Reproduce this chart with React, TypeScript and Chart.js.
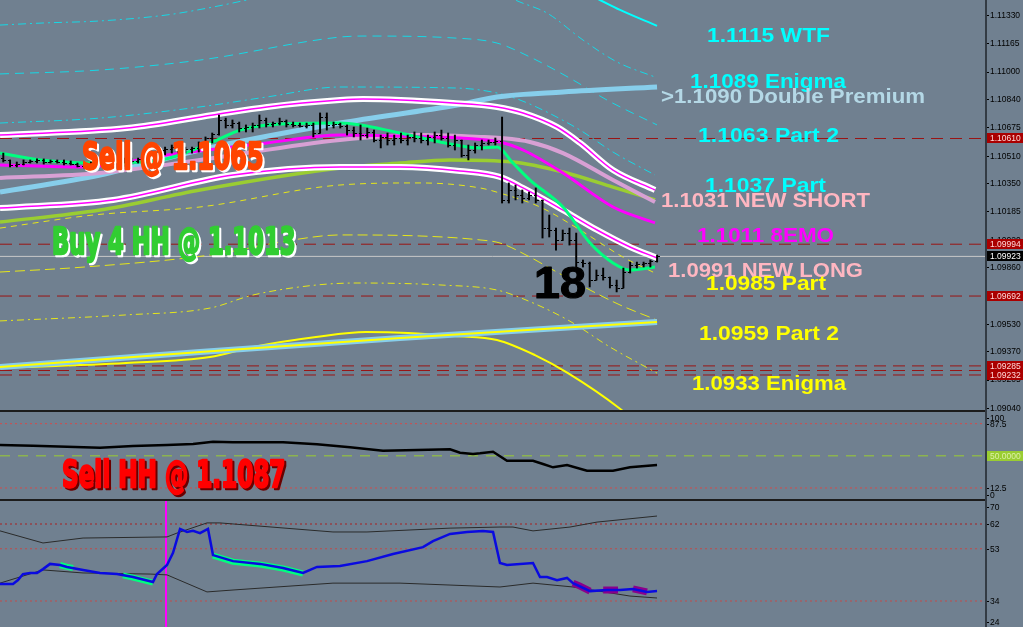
import React, { useEffect, useRef } from "react";
import { Chart, registerables } from "chart.js";

Chart.register(...registerables);

// ---------------- price bars (index = bar number) ----------------
const opens = [
  1.10496, 1.10485, 1.10456, 1.10461, 1.10473, 1.10479, 1.10485, 1.10473, 1.10479, 1.10473,
  1.10467, 1.10461, 1.1045, 1.10456, 1.10461, 1.10467, 1.10473, 1.10467, 1.10479, 1.10485,
  1.10479, 1.10491, 1.10496, 1.10508, 1.10543, 1.10549, 1.1056, 1.10543, 1.10549, 1.10555,
  1.10584, 1.10613, 1.10636, 1.10718, 1.10689, 1.107, 1.10671, 1.10677, 1.10689, 1.10718,
  1.10694, 1.107, 1.10712, 1.10694, 1.10689, 1.10683, 1.10689, 1.10642, 1.10735, 1.10689,
  1.10694, 1.10683, 1.10659, 1.10642, 1.1063, 1.10648, 1.10601, 1.10619, 1.10601, 1.10613,
  1.10601, 1.10619, 1.10613, 1.10601, 1.10619, 1.1063, 1.10613, 1.10572, 1.10601, 1.10514,
  1.10543, 1.10572, 1.10584, 1.1059, 1.10595, 1.10252, 1.1031, 1.10281, 1.10263, 1.10281,
  1.10252, 1.10088, 1.10077, 1.10019, 1.10059, 1.10019, 1.0989, 1.09885, 1.09785, 1.09815,
  1.09803, 1.09756, 1.09739, 1.09832, 1.09873, 1.09879, 1.09885, 1.09896,
];
const highs = [
  1.10525, 1.10485, 1.10473, 1.10485, 1.10485, 1.10491, 1.10491, 1.10485, 1.10485, 1.10485,
  1.10479, 1.10467, 1.10467, 1.10473, 1.10473, 1.10485, 1.10479, 1.10485, 1.10496, 1.10496,
  1.10496, 1.10502, 1.10514, 1.10555, 1.1056, 1.10572, 1.10584, 1.1056, 1.1056, 1.1059,
  1.10619, 1.10642, 1.10747, 1.10729, 1.10718, 1.10706, 1.10689, 1.107, 1.10747, 1.10729,
  1.10706, 1.10729, 1.10718, 1.10706, 1.107, 1.107, 1.107, 1.10759, 1.10759, 1.10706,
  1.107, 1.10689, 1.10677, 1.10689, 1.10671, 1.10659, 1.1063, 1.10642, 1.1063, 1.10642,
  1.1063, 1.10648, 1.10642, 1.1063, 1.10648, 1.10659, 1.10642, 1.1063, 1.10601, 1.10572,
  1.10584, 1.10601, 1.10601, 1.10613, 1.10735, 1.10351, 1.10339, 1.1031, 1.10298, 1.10322,
  1.10252, 1.10164, 1.10088, 1.10077, 1.10088, 1.10059, 1.09902, 1.0989, 1.09844, 1.09855,
  1.09803, 1.09785, 1.09855, 1.0989, 1.0989, 1.0989, 1.09902, 1.09931,
];
const lows = [
  1.10473, 1.10444, 1.10444, 1.10456, 1.10467, 1.10467, 1.10461, 1.10467, 1.10467, 1.10456,
  1.10456, 1.10444, 1.10438, 1.10444, 1.10444, 1.10444, 1.1045, 1.10456, 1.10467, 1.10467,
  1.10467, 1.10473, 1.10485, 1.10496, 1.10514, 1.10525, 1.10525, 1.10525, 1.10525, 1.10531,
  1.10584, 1.10584, 1.1063, 1.10671, 1.10671, 1.10648, 1.10648, 1.10648, 1.10671, 1.10677,
  1.10677, 1.10689, 1.10677, 1.10677, 1.10677, 1.10671, 1.10619, 1.10642, 1.10659, 1.10671,
  1.10671, 1.1063, 1.10619, 1.10601, 1.10613, 1.1059, 1.10555, 1.10572, 1.10572, 1.10584,
  1.10572, 1.1059, 1.10584, 1.10572, 1.10584, 1.10601, 1.1056, 1.10543, 1.10502, 1.10485,
  1.10525, 1.10543, 1.10572, 1.10572, 1.10234, 1.10234, 1.10252, 1.10234, 1.10252, 1.10234,
  1.1003, 1.10036, 1.0996, 1.10019, 1.09989, 1.09861, 1.09861, 1.09745, 1.09785, 1.09785,
  1.09739, 1.09716, 1.09739, 1.09826, 1.09855, 1.09861, 1.09861, 1.0989,
];
const closes = [
  1.10485, 1.10456, 1.10461, 1.10473, 1.10479, 1.10485, 1.10473, 1.10479, 1.10473, 1.10467,
  1.10461, 1.1045, 1.10456, 1.10461, 1.10467, 1.10473, 1.10467, 1.10479, 1.10485, 1.10479,
  1.10491, 1.10496, 1.10508, 1.10543, 1.10549, 1.1056, 1.10543, 1.10549, 1.10555, 1.10584,
  1.10613, 1.10636, 1.10718, 1.10689, 1.107, 1.10671, 1.10677, 1.10689, 1.10718, 1.10694,
  1.107, 1.10712, 1.10694, 1.10689, 1.10683, 1.10689, 1.10642, 1.10735, 1.10689, 1.10694,
  1.10683, 1.10659, 1.10642, 1.1063, 1.10648, 1.10601, 1.10619, 1.10601, 1.10613, 1.10601,
  1.10619, 1.10613, 1.10601, 1.10619, 1.1063, 1.10613, 1.10572, 1.10601, 1.10514, 1.10543,
  1.10572, 1.10584, 1.1059, 1.10595, 1.10252, 1.1031, 1.10281, 1.10263, 1.10281, 1.10252,
  1.10088, 1.10077, 1.10019, 1.10059, 1.10019, 1.0989, 1.09885, 1.09785, 1.09815, 1.09803,
  1.09756, 1.09739, 1.09832, 1.09873, 1.09879, 1.09885, 1.09896, 1.09923,
];

// ---------------- main-panel indicators: [barIndex, price] ----------------
const cyanOuter = [[-0.49, 1.11271], [5.89, 1.11283], [14.35, 1.11295], [24.29, 1.1133], [31.11, 1.11376], [36.16, 1.11417], [44, 1.1148], [60, 1.1152], [72, 1.1148], [76.66, 1.11405], [80.67, 1.11341], [86.0, 1.11184], [91.05, 1.11056], [96.69, 1.10968]];
const cyanMiddle = [[-0.49, 1.10986], [14.35, 1.11009], [29.18, 1.11067], [49.95, 1.11201], [53.37, 1.11207], [66.72, 1.11196], [73.25, 1.11166], [78.14, 1.11085], [84.53, 1.10951], [89.57, 1.10834], [96.99, 1.10689]];
const cyanInner = [[-0.49, 1.107], [14.35, 1.10729], [29.18, 1.10794], [39.12, 1.10852], [49.95, 1.1091], [67.32, 1.10904], [73.25, 1.10875], [76.66, 1.10834], [80.67, 1.10764], [85.57, 1.10659], [90.46, 1.10531], [96.69, 1.10397]];
const wtfLine = [[82.6, 1.11534], [88.53, 1.11417], [91.5, 1.11359], [96.99, 1.11266]];
const upperBand = [[-0.49, 1.1063], [18.35, 1.10671], [31.11, 1.10747], [39.12, 1.10794], [49.95, 1.10834], [53.37, 1.1084], [66.72, 1.10817], [73.25, 1.10794], [77.11, 1.10759], [82.15, 1.10677], [85.57, 1.10584], [90.46, 1.10426], [96.69, 1.1031]];
const lowerBand = [[-0.49, 1.10205], [16.28, 1.10252], [34.08, 1.10397], [49.95, 1.10444], [58.86, 1.10444], [67.76, 1.10421], [73.69, 1.10386], [77.11, 1.10322], [83.04, 1.10193], [88.09, 1.10077], [92.98, 1.09978], [96.99, 1.09914]];
const premiumLine = [[-0.49, 1.10298], [14.35, 1.10397], [29.18, 1.10543], [49.95, 1.107], [67.32, 1.10805], [73.25, 1.10852], [83.04, 1.10881], [96.99, 1.1091]];
const ema8 = [[-0.49, 1.10456], [11.83, 1.10444], [24.29, 1.10514], [39.12, 1.10584], [49.95, 1.1063], [58.86, 1.10624], [67.76, 1.10613], [73.69, 1.1059], [77.11, 1.10543], [83.04, 1.10409], [90.46, 1.10211], [96.69, 1.10118]];
const newShortLine = [[-0.49, 1.1038], [14.35, 1.10409], [29.18, 1.10485], [49.95, 1.10601], [61.82, 1.1063], [70.73, 1.10619], [73.69, 1.10613], [78.14, 1.1059], [83.04, 1.10525], [90.46, 1.10368], [96.69, 1.1024]];
const slowLine = [[-0.49, 1.10123], [14.35, 1.10193], [29.18, 1.1031], [49.95, 1.10438], [58.86, 1.10467], [66.28, 1.10485], [75.62, 1.10473], [83.04, 1.10415], [90.46, 1.10327], [96.69, 1.10252]];
const fastLine = [[-0.49, 1.10525], [5.44, 1.10485], [14.35, 1.10467], [23.25, 1.10485], [26.22, 1.10514], [31.7, 1.10601], [35.12, 1.10659], [39.12, 1.10689], [49.95, 1.107], [58.86, 1.10642], [64.79, 1.1059], [70.73, 1.10555], [73.25, 1.1056], [75.62, 1.10467], [78.14, 1.10368], [83.04, 1.10211], [87.05, 1.10001], [90.46, 1.09885], [92.98, 1.09844], [96.69, 1.09861]];
const yellowUpper = [[-0.49, 1.10088], [13.31, 1.10164], [29.18, 1.10211], [49.95, 1.10339], [61.82, 1.10351], [70.73, 1.10322], [73.69, 1.10292], [79.63, 1.10211], [85.57, 1.10077], [91.94, 1.09919], [96.69, 1.09826]];
const yellowMiddle = [[-0.49, 1.09832], [11.97, 1.09861], [30.67, 1.09931], [42.98, 1.10019], [49.95, 1.10048], [61.82, 1.10042], [70.73, 1.10019], [73.69, 1.10001], [78.14, 1.09919], [81.56, 1.09844], [87.05, 1.09727], [91.5, 1.0964], [96.99, 1.09552]];
const yellowLower = [[-0.49, 1.09547], [18.2, 1.09582], [30.67, 1.09622], [37.05, 1.09698], [46.39, 1.09756], [52.62, 1.09768], [65.09, 1.09756], [73.25, 1.09727], [77.55, 1.09669], [83.78, 1.09552], [90.01, 1.09395], [96.99, 1.09243]];
const yellowTrend = [[-0.49, 1.09278], [29.18, 1.09366], [58.86, 1.09447], [96.99, 1.09541]];
const yellowCurve = [[-0.49, 1.09273], [18.2, 1.09302], [30.67, 1.09337], [37.05, 1.09395], [46.39, 1.09453], [53.81, 1.09482], [60.04, 1.09477], [67.02, 1.09459], [73.25, 1.09436], [78.88, 1.09348], [83.78, 1.09243], [91.35, 1.0904], [94, 1.0895]];

const levelPrices = [1.1061, 1.09994, 1.09692, 1.09285, 1.09258, 1.09232];
const taggedLevels = [1.1061, 1.09994, 1.09692, 1.09285, 1.09232];
const bidPrice = 1.09923;
const mainTicks = [1.1133, 1.11165, 1.11, 1.1084, 1.10675, 1.1051, 1.1035, 1.10185, 1.1002, 1.0986, 1.09695, 1.0953, 1.0937, 1.09205, 1.0904];

// ---------------- oscillator panel ----------------
const oscLine = [[-0.49, 62.6], [4.41, 61.8], [9.45, 60.6], [14.35, 59.5], [19.24, 61.5], [24.29, 62.6], [28.15, 63.8], [31.11, 66.5], [34.08, 65.8], [41.5, 65.8], [46.54, 63.4], [51.44, 59.9], [56.33, 56.0], [61.38, 56.8], [66.28, 57.6], [67.76, 53.6], [69.69, 52.1], [70.73, 52.9], [72.66, 54.8], [74.73, 44.3], [78.59, 44.3], [80.07, 40.5], [81.56, 36.6], [83.64, 39.3], [86.6, 32.6], [90.46, 32.6], [92.98, 36.6], [96.99, 39.3]];
const oscTicks = [100, 87.5, 12.5, 0];
const oscTickLabels = ["100", "87.5", "12.5", "0"];
const oscDotted = [87.5, 12.5];
const oscMid = 50;

// ---------------- RSI panel ----------------
const rsiLine = [[-0.49, 40.2], [1.44, 40.2], [2.18, 41.6], [2.92, 43.8], [3.96, 44.2], [5.0, 44.2], [5.89, 45.6], [6.93, 47.5], [8.41, 47.1], [9.45, 46.4], [11.83, 45.3], [14.35, 44.2], [16.87, 43.8], [19.24, 42.7], [22.21, 40.9], [22.8, 43.8], [24.29, 47.1], [25.18, 51.5], [26.22, 60.2], [27.26, 59.1], [28.15, 59.5], [29.18, 58.7], [30.37, 60.2], [31.11, 50.7], [34.08, 48.5], [38.08, 47.5], [41.5, 46.0], [44.47, 44.2], [46.54, 46.4], [49.95, 46.7], [53.96, 48.5], [57.82, 51.1], [62.27, 53.6], [63.75, 55.8], [66.28, 58.4], [68.8, 59.1], [71.17, 59.5], [72.66, 59.1], [73.69, 47.8], [74.73, 47.1], [78.59, 47.8], [79.63, 42.7], [80.67, 42.7], [82.15, 41.6], [83.64, 42.4], [84.53, 40.5], [87.05, 37.6], [89.57, 38.0], [91.5, 38.0], [93.42, 38.4], [95.5, 37.3], [96.99, 37.6]];
const rsiUpSeg1 = [[8.41, 47.1], [9.45, 46.4], [10.34, 46.0]];
const rsiUpSeg2 = [[17.76, 43.3], [19.24, 42.5], [22.21, 40.7]];
const rsiUpSeg3 = [[31.11, 50.5], [34.08, 48.3], [38.08, 47.3], [41.5, 45.8], [44.47, 44.0]];
const rsiDnSeg1 = [[84.53, 40.5], [85.5, 39.5], [87.05, 37.6]];
const rsiDnSeg2 = [[89.0, 38.0], [91.2, 38.0]];
const rsiDnSeg3 = [[93.42, 38.4], [95.5, 37.3]];
const rsiBandUp = [[-0.49, 59.5], [5.89, 55.1], [11.83, 56.9], [24.29, 57.3], [25.77, 58.7], [30.22, 62.4], [32.15, 62.4], [48.91, 59.1], [53.96, 59.1], [66.28, 60.5], [73.69, 60.9], [75.62, 60.9], [78.59, 59.5], [84.08, 60.9], [88.09, 62.7], [96.99, 64.9]];
const rsiBandDn = [[-0.49, 40.5], [2.03, 42.4], [5.89, 45.3], [11.83, 44.2], [21.77, 43.8], [24.29, 43.5], [30.22, 37.3], [34.08, 38.0], [48.91, 40.5], [58.86, 40.5], [66.28, 39.8], [73.69, 39.1], [78.59, 40.5], [84.53, 39.1], [92.98, 35.8], [96.99, 35.1]];
const rsiMarkerBar = 24.14;
const rsiTicks = [70, 62, 53, 34, 24];
const rsiLevels = [62, 53, 34];

// ---------------- text ----------------
const rightNotes = ["1.1115 WTF", "1.1089 Enigma", ">1.1090 Double Premium", "1.1063 Part 2", "1.1037 Part", "1.1031 NEW SHORT", "1.1011 8EMO", "1.0991 NEW LONG", "1.0985 Part", "1.0959 Part 2", "1.0933 Enigma"];
const bigNotes = ["Sell @ 1.1065", "Buy 4 HH @ 1.1013", "18"];
const oscNote = "Sell HH @ 1.1087";

// ---------------- layout / style ----------------
const X_MIN = -0.49;
const X_MAX = 145.65;
const BG = "#708090";
const NOTE_FONT = 'bold 21px "Liberation Sans", Arial, sans-serif';
const BIG_FONT = 'bold 38px "DejaVu Sans Condensed", "Liberation Sans Narrow", "Liberation Sans", sans-serif';
const AXIS_FONT = '8.5px "Liberation Sans", Arial, sans-serif';
const CYAN = "#00ffff";
const YEL = "#ffff00";
const PINK = "#ffb6c1";
const rightLayout = [
  { x: 707, b: 42, w: 123, c: CYAN },
  { x: 690, b: 88, w: 156, c: CYAN },
  { x: 661, b: 103, w: 264, c: "#b4d8e6" },
  { x: 698, b: 142, w: 141, c: CYAN },
  { x: 705, b: 192, w: 121, c: CYAN },
  { x: 661, b: 207, w: 209, c: PINK },
  { x: 697, b: 242, w: 137, c: "#ff00ff" },
  { x: 668, b: 277, w: 195, c: PINK },
  { x: 706, b: 290, w: 120, c: YEL },
  { x: 699, b: 340, w: 140, c: YEL },
  { x: 692, b: 390, w: 154, c: YEL },
];
const bigLayout = [
  { x: 82, b: 169, w: 183, c: "#ff4500", s: "#ffffff", font: BIG_FONT, stroke: 1.6 },
  { x: 52, b: 254, w: 245, c: "#32cd32", s: "#ffffff", font: BIG_FONT, stroke: 1.6 },
  { x: 534, b: 298, w: 53, c: "#000000", s: null, font: 'bold 44px "Liberation Sans", Arial, sans-serif', stroke: 1.2 },
];

type P = number[][];
const pts = (a: P) => a.map(([x, y]) => ({ x, y }));

function ln(data: P, color: string, width: number, order: number, extra: any = {}) {
  return {
    type: "line",
    data: pts(data),
    borderColor: color,
    borderWidth: width,
    pointRadius: 0,
    fill: false,
    cubicInterpolationMode: "monotone",
    order,
    ...extra,
  };
}
function hline(v: number, color: string, width: number, dash: number[], order: number) {
  return ln([[X_MIN, v], [X_MAX, v]], color, width, order, { borderDash: dash, cubicInterpolationMode: "default", tension: 0 });
}

function drawFit(ctx: CanvasRenderingContext2D, text: string, x: number, b: number, w: number, font: string, color: string, shadow: string | null, dx = 2, dy = 2, stroke = 0) {
  ctx.save();
  ctx.font = font;
  ctx.textAlign = "left";
  ctx.textBaseline = "alphabetic";
  ctx.lineJoin = "round";
  const mw = ctx.measureText(text).width || 1;
  const sx = (w - stroke) / mw;
  const paint = (ox: number, oy: number, col: string) => {
    ctx.save();
    ctx.translate(ox, oy);
    ctx.scale(sx, 1);
    ctx.fillStyle = col;
    ctx.fillText(text, 0, 0);
    if (stroke > 0) {
      ctx.strokeStyle = col;
      ctx.lineWidth = stroke / sx;
      ctx.strokeText(text, 0, 0);
    }
    ctx.restore();
  };
  if (shadow) paint(x + dx, b + dy, shadow);
  paint(x, b, color);
  ctx.restore();
}

function drawAxis(chart: any, ticks: number[], labels: string[], clamp: boolean, tags: { v: number; t: string; bg: string; fg: string }[]) {
  const { ctx, chartArea, scales } = chart;
  const ys = scales.y;
  ctx.save();
  ctx.font = AXIS_FONT;
  ctx.textAlign = "left";
  ctx.textBaseline = "middle";
  ctx.strokeStyle = "#000";
  ctx.fillStyle = "#000";
  ctx.lineWidth = 1;
  ticks.forEach((v, i) => {
    let y = ys.getPixelForValue(v);
    if (clamp) y = Math.min(Math.max(y, chartArea.top + 7), chartArea.bottom - 5);
    const yy = Math.round(y) + 0.5;
    ctx.beginPath();
    ctx.moveTo(chartArea.right + 1, yy);
    ctx.lineTo(chartArea.right + 4, yy);
    ctx.stroke();
    ctx.fillText(labels[i], chartArea.right + 5, y + 0.5);
  });
  tags.forEach((tg) => {
    const y = Math.round(ys.getPixelForValue(tg.v));
    ctx.fillStyle = tg.bg;
    ctx.fillRect(chartArea.right + 2, y - 5, 36, 10);
    ctx.fillStyle = tg.fg;
    ctx.fillText(tg.t, chartArea.right + 5, y + 0.5);
  });
  ctx.restore();
}

function baseOptions(yMin: number, yMax: number, padBottom: number) {
  return {
    responsive: false,
    animation: false,
    devicePixelRatio: 1,
    events: [],
    layout: { padding: { left: 0, top: 0, right: 38, bottom: padBottom } },
    plugins: { legend: { display: false }, tooltip: { enabled: false }, title: { display: false } },
    scales: {
      x: { type: "linear", min: X_MIN, max: X_MAX, display: false, offset: false },
      y: { type: "linear", min: yMin, max: yMax, display: false },
    },
  };
}

function mainConfig(): any {
  const datasets: any[] = [
    {
      type: "bar",
      data: opens.map((_, i) => ({ x: i, y: [lows[i], highs[i]] })),
      backgroundColor: "#000000",
      borderWidth: 0,
      barThickness: 1.3,
      order: 0,
    },
    ln(fastLine, "#00ff7f", 3, 1),
    ln(upperBand, "#ff00ff", 1.5, 2),
    ln(lowerBand, "#ff00ff", 1.5, 2),
    ln(upperBand, "#ffffff", 6, 3),
    ln(lowerBand, "#ffffff", 6, 3),
    ln(ema8, "#ff00ff", 3, 4),
    ln(newShortLine, "#d8a0d4", 4, 5),
    ln(slowLine, "#9acd32", 3.5, 6),
    ln(premiumLine, "#87ceeb", 5, 7),
    ln(yellowTrend, "#ffff00", 2, 8),
    ln(yellowTrend, "#87ceeb", 6, 9),
    ln(yellowCurve, "#ffff00", 2, 10),
    ln(wtfLine, "#00ffff", 2, 11),
    ln(yellowUpper, "#e6e619", 1, 12, { borderDash: [6, 5] }),
    ln(yellowMiddle, "#e6e619", 1, 12, { borderDash: [10, 5] }),
    ln(yellowLower, "#e6e619", 1, 12, { borderDash: [7, 4, 2, 4] }),
    ln(cyanOuter, "#16d8e6", 1, 13, { borderDash: [8, 4, 2, 4] }),
    ln(cyanMiddle, "#16d8e6", 1, 13, { borderDash: [9, 6] }),
    ln(cyanInner, "#16d8e6", 1, 13, { borderDash: [8, 4, 2, 4] }),
    hline(bidPrice, "#c8c8c8", 1, [], 20),
    ...levelPrices.map((p) => hline(p, "#9a1414", 1, [12, 7], 21)),
  ];
  const tags = [
    ...taggedLevels.map((p) => ({ v: p, t: p.toFixed(5), bg: "#aa0000", fg: "#ffd8d8" })),
    { v: bidPrice, t: bidPrice.toFixed(5), bg: "#000000", fg: "#ffffff" },
  ];
  return {
    type: "line",
    data: { datasets },
    options: baseOptions(1.09028, 1.11417, 10),
    plugins: [
      {
        id: "mainOverlay",
        afterDatasetsDraw(chart: any) {
          const { ctx, scales } = chart;
          const xs = scales.x;
          const ys = scales.y;
          ctx.save();
          ctx.strokeStyle = "#000";
          ctx.lineWidth = 1;
          ctx.beginPath();
          opens.forEach((o, i) => {
            const px = Math.round(xs.getPixelForValue(i)) + 0.5;
            const yo = Math.round(ys.getPixelForValue(o)) + 0.5;
            const yc = Math.round(ys.getPixelForValue(closes[i])) + 0.5;
            ctx.moveTo(px - 2.5, yo);
            ctx.lineTo(px, yo);
            ctx.moveTo(px, yc);
            ctx.lineTo(px + 2.5, yc);
          });
          ctx.stroke();
          ctx.restore();
        },
        afterDraw(chart: any) {
          const ctx = chart.ctx;
          drawAxis(chart, mainTicks, mainTicks.map((v) => v.toFixed(5)), false, tags);
          rightNotes.forEach((t, i) => {
            const l = rightLayout[i];
            drawFit(ctx, t, l.x, l.b, l.w, NOTE_FONT, l.c, null);
          });
          bigNotes.forEach((t, i) => {
            const l = bigLayout[i];
            drawFit(ctx, t, l.x, l.b, l.w, l.font, l.c, l.s, 2, 2, l.stroke);
          });
        },
      },
    ],
  };
}

function oscConfig(): any {
  const datasets: any[] = [
    ln(oscLine, "#000000", 2.5, 1, { cubicInterpolationMode: "default", tension: 0 }),
    ...oscDotted.map((v) => hline(v, "#d44a4a", 1, [2, 3], 5)),
    hline(oscMid, "#9acd32", 1, [10, 8], 5),
  ];
  return {
    type: "line",
    data: { datasets },
    options: baseOptions(-1.5, 102.3, 0),
    plugins: [
      {
        id: "oscOverlay",
        afterDraw(chart: any) {
          drawAxis(chart, oscTicks, oscTickLabels, true, [{ v: oscMid, t: oscMid.toFixed(4), bg: "#9acd32", fg: "#dcefa8" }]);
          drawFit(chart.ctx, oscNote, 62, 76, 225, BIG_FONT, "#ff0000", "#6a0000", 2, 2, 1.6);
        },
      },
    ],
  };
}

function rsiConfig(): any {
  const straight = { cubicInterpolationMode: "default", tension: 0 };
  const datasets: any[] = [
    ln(rsiLine, "#0a0ae0", 2.5, 1, straight),
    ln(rsiUpSeg1, "#00ff7f", 6, 2, straight),
    ln(rsiUpSeg2, "#00ff7f", 6, 2, straight),
    ln(rsiUpSeg3, "#00ff7f", 6, 2, straight),
    ln(rsiDnSeg1, "#8b008b", 7, 2, straight),
    ln(rsiDnSeg2, "#8b008b", 7, 2, straight),
    ln(rsiDnSeg3, "#8b008b", 7, 2, straight),
    ln(rsiBandUp, "#2a2a2a", 1, 3, straight),
    ln(rsiBandDn, "#2a2a2a", 1, 3, straight),
    ln([[rsiMarkerBar, 20], [rsiMarkerBar, 80]], "#ff00ff", 2, 4, straight),
    ...rsiLevels.map((v, i) => hline(v, i === 0 ? "#a82020" : "#c24a4a", 1, [2, 3], 6)),
  ];
  return {
    type: "line",
    data: { datasets },
    options: baseOptions(24.55, 70.73, 0),
    plugins: [
      {
        id: "rsiOverlay",
        afterDraw(chart: any) {
          drawAxis(chart, rsiTicks, rsiTicks.map((v) => String(v)), true, []);
        },
      },
    ],
  };
}

export default function App() {
  const mainRef = useRef<HTMLCanvasElement>(null);
  const oscRef = useRef<HTMLCanvasElement>(null);
  const rsiRef = useRef<HTMLCanvasElement>(null);

  useEffect(() => {
    const charts: Chart[] = [];
    if (mainRef.current) charts.push(new Chart(mainRef.current, mainConfig()));
    if (oscRef.current) charts.push(new Chart(oscRef.current, oscConfig()));
    if (rsiRef.current) charts.push(new Chart(rsiRef.current, rsiConfig()));
    return () => charts.forEach((c) => c.destroy());
  }, []);

  const abs = (top: number): React.CSSProperties => ({ position: "absolute", left: 0, top });
  return (
    <div style={{ position: "fixed", left: 0, top: 0, width: 1023, height: 627, background: BG, overflow: "hidden" }}>
      <canvas ref={mainRef} width={1023} height={420} style={abs(0)} />
      <canvas ref={oscRef} width={1023} height={89} style={abs(411)} />
      <canvas ref={rsiRef} width={1023} height={127} style={abs(500)} />
      <div style={{ position: "absolute", left: 0, top: 410, width: 987, height: 2, background: "#1c1c1c" }} />
      <div style={{ position: "absolute", left: 0, top: 499, width: 987, height: 2, background: "#1c1c1c" }} />
      <div style={{ position: "absolute", left: 985, top: 0, width: 2, height: 627, background: "#333b44" }} />
    </div>
  );
}
